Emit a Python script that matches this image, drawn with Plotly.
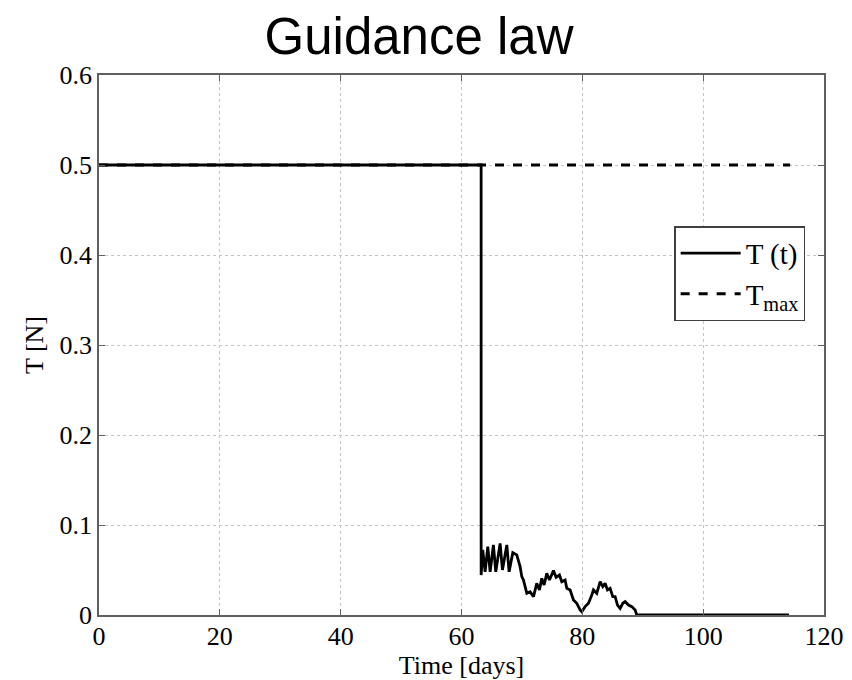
import plotly.graph_objects as go

# T(t) profile: full thrust until switch-off, then the oscillating tail
days = [0, 63.25, 63.25, 63.52, 63.91, 64.35, 64.74, 65.28, 65.67, 66.39, 66.78,
        67.50, 67.88, 68.49, 69.15, 69.70, 69.98, 70.25, 70.81, 71.36, 71.91,
        72.46, 72.90, 73.29, 73.67, 74.12, 74.56, 75.22, 75.66, 76.21, 76.60,
        77.15, 77.43, 77.98, 78.53, 79.08, 79.64, 79.91, 80.46, 81.01, 81.57,
        81.84, 82.39, 82.95, 83.39, 83.77, 84.16, 84.60, 85.04, 85.43, 85.82,
        86.26, 86.70, 87.09, 87.64, 88.19, 88.74, 89.01, 114.2]
thrust = [0.5, 0.5, 0.0444, 0.0722, 0.048, 0.0759, 0.048, 0.0778, 0.048, 0.0796, 0.050,
          0.0778, 0.048, 0.0693, 0.0667, 0.0537, 0.0426, 0.0389, 0.0241, 0.0259, 0.0204,
          0.0352, 0.0278, 0.0407, 0.0333, 0.0463, 0.0389, 0.0493, 0.0419, 0.0444, 0.037,
          0.0389, 0.0296, 0.0278, 0.0167, 0.013, 0.0056, 0.0037, 0.0093, 0.013, 0.0222,
          0.0278, 0.0241, 0.037, 0.0315, 0.0352, 0.0278, 0.0296, 0.0204, 0.0204, 0.0111,
          0.0074, 0.013, 0.0148, 0.0111, 0.0093, 0.0056, 0.0, 0.0]

tmax_days = [0, 114.4]
tmax_vals = [0.5, 0.5]

x_ticks = [0, 20, 40, 60, 80, 100, 120]
y_ticks = [0, 0.1, 0.2, 0.3, 0.4, 0.5, 0.6]
y_labels = ["0", "0.1", "0.2", "0.3", "0.4", "0.5", "0.6"]

serif = "Liberation Serif, Times New Roman, serif"

fig = go.Figure()
fig.add_trace(go.Scatter(x=days, y=thrust, mode="lines", name="T (t)",
                         line=dict(color="black", width=2.8)))
fig.add_trace(go.Scatter(x=tmax_days, y=tmax_vals, mode="lines", name="T<sub>max</sub>",
                         line=dict(color="black", width=2.8, dash="dash")))

axis_style = dict(showline=True, linecolor="#606060", linewidth=1.5, mirror="allticks",
                  ticks="inside", ticklen=6, tickcolor="#606060",
                  showgrid=True, gridcolor="#c4c4c4", griddash="dot", gridwidth=1,
                  zeroline=False, tickfont=dict(family=serif, size=26, color="black"))

fig.update_xaxes(range=[0, 120], tickvals=x_ticks, automargin=False, ticklabelstandoff=-3,
                 title=dict(text="Time [days]", font=dict(family=serif, size=26, color="black"),
                            standoff=0),
                 **axis_style)
fig.update_yaxes(range=[0, 0.6], tickvals=y_ticks, ticktext=y_labels,
                 title=dict(text="T [N]", font=dict(family=serif, size=26, color="black"),
                            standoff=8),
                 **axis_style)

# the page body adds 8px around the figure, so it is drawn slightly smaller
fig.update_layout(
    width=844, height=672,
    paper_bgcolor="white", plot_bgcolor="white",
    margin=dict(l=91, r=28, t=67, b=65),
    title=dict(text="Guidance law", x=0.487, xanchor="center", y=0.985, yanchor="top",
               font=dict(family="Liberation Sans, Arial, sans-serif", size=51, color="black")),
    legend=dict(x=0.974, xanchor="right", y=0.72, yanchor="top",
                bgcolor="white", bordercolor="#404040", borderwidth=1.5,
                font=dict(family=serif, size=29, color="black"),
                itemwidth=60, tracegroupgap=0),
    showlegend=True,
)

fig.write_html("out.html")
